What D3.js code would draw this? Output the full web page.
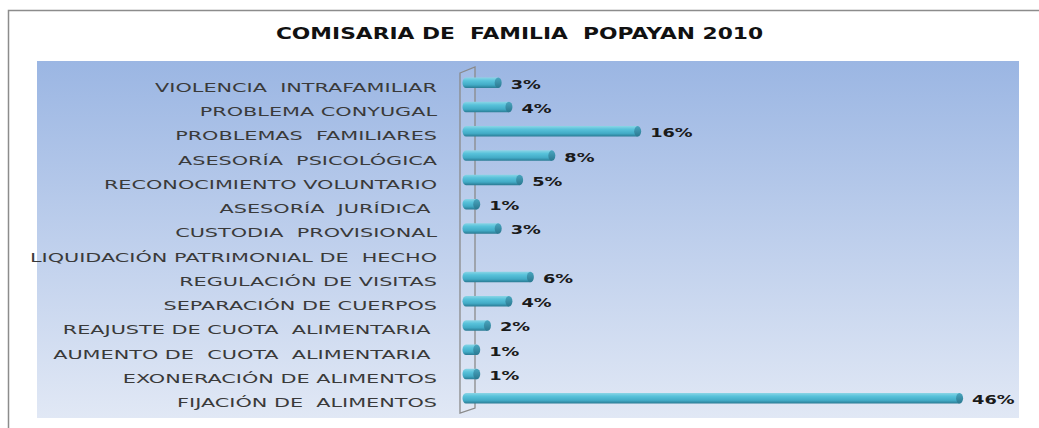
<!DOCTYPE html>
<html>
<head>
<meta charset="utf-8">
<script src="https://cdn.jsdelivr.net/npm/d3@7"></script>
<style>
  body { margin: 0; background: #fff; }
  text { white-space: pre; }
</style>
</head>
<body>
<svg id="chart" width="1039" height="428"></svg>
<script>
const title = 'COMISARIA DE  FAMILIA  POPAYAN 2010';
const categories = [
  'VIOLENCIA  INTRAFAMILIAR',
  'PROBLEMA CONYUGAL',
  'PROBLEMAS  FAMILIARES',
  'ASESORÍA  PSICOLÓGICA',
  'RECONOCIMIENTO VOLUNTARIO',
  'ASESORÍA  JURÍDICA ',
  'CUSTODIA  PROVISIONAL',
  'LIQUIDACIÓN PATRIMONIAL DE  HECHO',
  'REGULACIÓN DE VISITAS',
  'SEPARACIÓN DE CUERPOS',
  'REAJUSTE DE CUOTA  ALIMENTARIA ',
  'AUMENTO DE  CUOTA  ALIMENTARIA ',
  'EXONERACIÓN DE ALIMENTOS',
  'FIJACIÓN DE  ALIMENTOS'
];
const values = [3, 4, 16, 8, 5, 1, 3, 0, 6, 4, 2, 1, 1, 46];

const svg = d3.select('#chart');
const defs = svg.append('defs');

// plot area background
const bg = defs.append('linearGradient').attr('id', 'bg')
  .attr('x1', 0).attr('y1', 0).attr('x2', 0).attr('y2', 1);
bg.append('stop').attr('offset', 0).attr('stop-color', '#9bb6e3');
bg.append('stop').attr('offset', 1).attr('stop-color', '#e1e8f5');

const barGrad = defs.append('linearGradient').attr('id', 'bar')
  .attr('x1', 0).attr('y1', 0).attr('x2', 0).attr('y2', 1);
barGrad.append('stop').attr('offset', 0).attr('stop-color', '#8ad5e6');
barGrad.append('stop').attr('offset', 0.3).attr('stop-color', '#58c2da');
barGrad.append('stop').attr('offset', 0.7).attr('stop-color', '#42abc6');
barGrad.append('stop').attr('offset', 1).attr('stop-color', '#2a7a93');

const capGrad = defs.append('linearGradient').attr('id', 'cap')
  .attr('x1', 0).attr('y1', 0).attr('x2', 0).attr('y2', 1);
capGrad.append('stop').attr('offset', 0).attr('stop-color', '#4aa6bf');
capGrad.append('stop').attr('offset', 1).attr('stop-color', '#2a7890');

// chart border (runs off the right and bottom edges)
svg.append('rect')
  .attr('x', 8.5).attr('y', 10.5)
  .attr('width', 1100).attr('height', 500)
  .attr('fill', '#fff')
  .attr('stroke', '#8c8c8c').attr('stroke-width', 1.5);

svg.append('rect')
  .attr('x', 37).attr('y', 61)
  .attr('width', 982).attr('height', 357)
  .attr('fill', 'url(#bg)');

svg.append('text')
  .attr('transform', 'translate(519.5,39) scale(1.32,1)')
  .attr('text-anchor', 'middle')
  .attr('font-family', 'DejaVu Sans')
  .attr('font-weight', 'bold')
  .attr('font-size', '16.5px')
  .attr('fill', '#111')
  .text(title);

const x = d3.scaleLinear().domain([0, 50]).range([466, 1002.5]);
const y = d3.scalePoint().domain(categories).range([82.8, 398.3]);

const barH = 10.5;
const rx = 3.5;

// 3d wall behind the bars
const wall = [[460, 73], [475, 67], [475, 408], [460, 413]];
svg.append('path')
  .attr('d', d3.line()(wall) + 'Z')
  .attr('fill', 'rgba(255,255,255,0.08)')
  .attr('stroke', '#8a8a8a')
  .attr('stroke-width', 1.3);

const data = categories.map((c, i) => ({cat: c, v: values[i]}));

const bars = svg.append('g').selectAll('g')
  .data(data.filter(d => d.v > 0))
  .enter().append('g');

bars.append('path')
  .attr('d', d => {
    const x0 = x(0), x1 = x(d.v), cy = y(d.cat);
    const t = cy - barH / 2, b = cy + barH / 2;
    return `M${x1},${t} L${x0},${t} A${rx},${barH / 2} 0 0 0 ${x0},${b} L${x1},${b} Z`;
  })
  .attr('fill', 'url(#bar)');

bars.append('ellipse')
  .attr('cx', d => x(d.v))
  .attr('cy', d => y(d.cat))
  .attr('rx', rx).attr('ry', barH / 2)
  .attr('fill', 'url(#cap)');

bars.append('text')
  .attr('transform', d => `translate(${x(d.v) + rx + 9},${y(d.cat) + 6}) scale(1.42,1)`)
  .attr('font-family', 'DejaVu Sans')
  .attr('font-weight', 'bold')
  .attr('font-size', '12.5px')
  .attr('fill', '#1a1a1a')
  .text(d => d.v + '%');

svg.append('g').selectAll('text')
  .data(categories)
  .enter().append('text')
  .attr('transform', d => `translate(437,${y(d) + 9}) scale(1.6,1)`)
  .attr('text-anchor', 'end')
  .attr('font-family', 'DejaVu Sans')
  .attr('font-size', '13px')
  .attr('fill', '#3a3a3a')
  .text(d => d);
</script>
</body>
</html>
